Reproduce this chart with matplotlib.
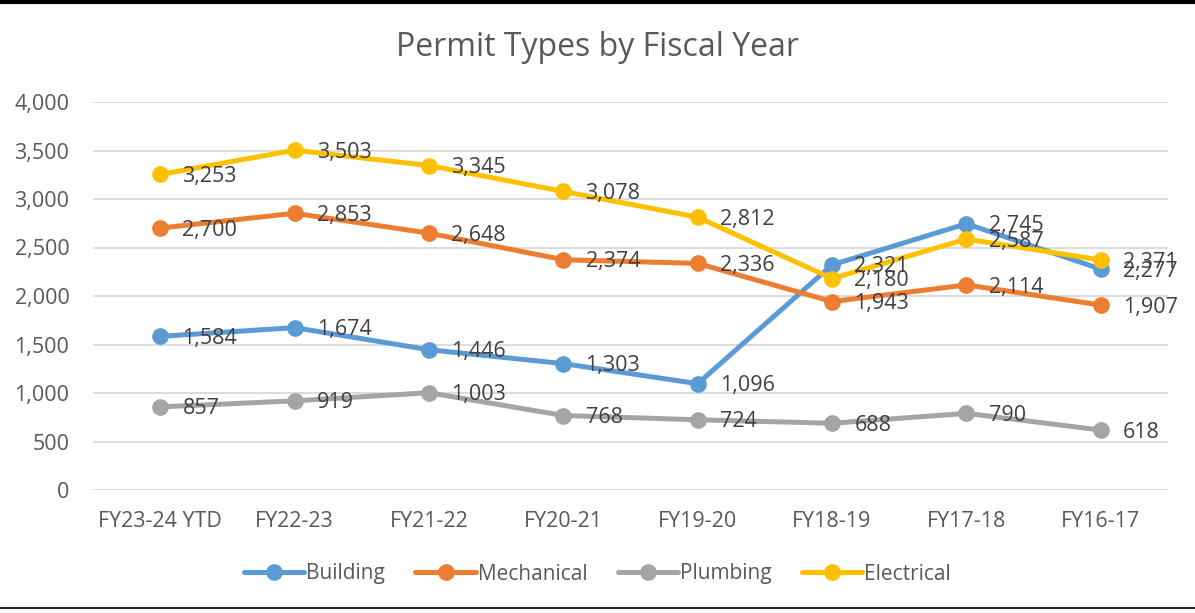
import matplotlib
matplotlib.use("Agg")
import matplotlib.pyplot as plt
from matplotlib.ticker import FuncFormatter, MultipleLocator
from matplotlib.lines import Line2D

categories = ["FY23-24 YTD", "FY22-23", "FY21-22", "FY20-21", "FY19-20", "FY18-19", "FY17-18", "FY16-17"]
building = [1584, 1674, 1446, 1303, 1096, 2321, 2745, 2277]
mechanical = [2700, 2853, 2648, 2374, 2336, 1943, 2114, 1907]
plumbing = [857, 919, 1003, 768, 724, 688, 790, 618]
electrical = [3253, 3503, 3345, 3078, 2812, 2180, 2587, 2371]

series = [
    ("Building", building, "#5B9BD5"),
    ("Mechanical", mechanical, "#ED7D31"),
    ("Plumbing", plumbing, "#A5A5A5"),
    ("Electrical", electrical, "#FFC000"),
]

plt.rcParams['font.family'] = ['Open Sans', 'DejaVu Sans']

fig = plt.figure(figsize=(11.95, 6.13), dpi=100)
ax = fig.add_axes([93/1195, 1-490/613, (1168-93)/1195, (490-102)/613])

x = list(range(len(categories)))
handles = []
for name, vals, col in series:
    h, = ax.plot(x, vals, color=col, lw=3.6, marker='o', ms=11, label=name,
                 solid_capstyle='round', clip_on=False, zorder=3)
    handles.append(h)

for name, vals, col in series:
    for xi, v in zip(x, vals):
        ax.annotate(f"{v:,}", (xi, v), xytext=(16, -1.5), textcoords='offset points',
                    ha='left', va='center', fontsize=15.5, color='#404040', zorder=5)

ax.set_xlim(-0.5, len(categories) - 0.5)
ax.set_ylim(0, 4000)
ax.yaxis.set_major_locator(MultipleLocator(500))
ax.yaxis.set_major_formatter(FuncFormatter(lambda v, p: f"{int(v):,}"))
ax.set_xticks(x)
ax.set_xticklabels(categories)
ax.tick_params(axis='both', length=0, labelsize=15.5, labelcolor='#595959')
ax.tick_params(axis='y', pad=17)
ax.tick_params(axis='x', pad=15)
ax.grid(axis='y', color='#D9D9D9', lw=1.3, zorder=0)
ax.set_axisbelow(True)
for s in ax.spines.values():
    s.set_visible(False)

fig.text(0.5, 1-47/613, "Permit Types by Fiscal Year", ha='center', va='center',
         fontsize=23, color='#595959')

fig.legend(handles=handles, labels=[s[0] for s in series], loc='center',
           bbox_to_anchor=(0.5, 1-574/613), ncol=4, frameon=False, fontsize=15,
           handlelength=2.9, handletextpad=0.1, columnspacing=1.45,
           labelcolor='#595959')

fig.add_artist(Line2D([0, 1], [1-2/613, 1-2/613], color='black', lw=3, transform=fig.transFigure))
fig.add_artist(Line2D([0, 1], [1-608/613, 1-608/613], color='#222222', lw=1.5, transform=fig.transFigure))

fig.savefig("out.png", dpi=100)
